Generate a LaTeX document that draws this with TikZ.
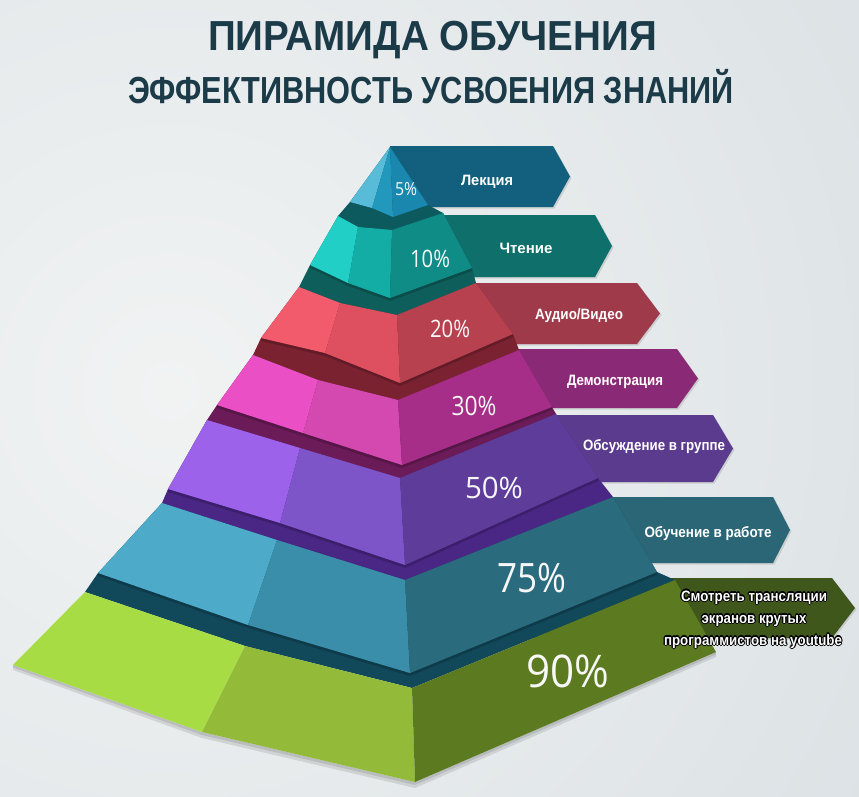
\documentclass[tikz,border=0pt]{standalone}
\usepackage{fontspec}
\setmainfont{Liberation Sans}
\newfontfamily\pctfont{Open Sans}
\usetikzlibrary{shadows}
\definecolor{bgcol}{HTML}{DCE2E5}
\definecolor{bglight}{HTML}{F1F3F3}
\definecolor{titlecol}{HTML}{1C3B49}
% ribbons
\definecolor{rA}{HTML}{13607E}
\definecolor{rB}{HTML}{0F6F6A}
\definecolor{rC}{HTML}{9F3A4A}
\definecolor{rD}{HTML}{8A2A76}
\definecolor{rE}{HTML}{5A3B8E}
\definecolor{rF}{HTML}{2A6676}
\definecolor{rG}{HTML}{3F571B}
% layers: left / mid / right / ledge
\definecolor{aL}{HTML}{58BCD8}\definecolor{aM}{HTML}{2398BD}\definecolor{aR}{HTML}{1A88AE}
\definecolor{bL}{HTML}{22CFC7}\definecolor{bM}{HTML}{14ADA6}\definecolor{bR}{HTML}{0F8C86}\definecolor{bG}{HTML}{0C5A5D}
\definecolor{cL}{HTML}{F25B6B}\definecolor{cM}{HTML}{DE4F5F}\definecolor{cR}{HTML}{B8414F}\definecolor{cG}{HTML}{0E5F5C}
\definecolor{dL}{HTML}{EA4FC5}\definecolor{dM}{HTML}{D449B0}\definecolor{dR}{HTML}{A72E88}\definecolor{dG}{HTML}{7B2231}
\definecolor{eL}{HTML}{9C62EA}\definecolor{eM}{HTML}{7E54C9}\definecolor{eR}{HTML}{5E3D9A}\definecolor{eG}{HTML}{6B1B58}
\definecolor{fL}{HTML}{4DAAC9}\definecolor{fM}{HTML}{3B8EAA}\definecolor{fR}{HTML}{2B6B7E}\definecolor{fG}{HTML}{4A2784}
\definecolor{gL}{HTML}{A8DC44}\definecolor{gM}{HTML}{93BA38}\definecolor{gR}{HTML}{5C7B20}\definecolor{gG}{HTML}{12495A}
\newcommand\fitw[2]{\resizebox{#1}{\height}{#2}}
\newcommand\olt[1]{\leavevmode
  \rlap{\textcolor{black}{\kern-1.2pt#1}}\rlap{\textcolor{black}{\kern1.2pt#1}}%
  \rlap{\textcolor{black}{\raisebox{1.2pt}{#1}}}\rlap{\textcolor{black}{\raisebox{-1.2pt}{#1}}}%
  \rlap{\textcolor{black}{\kern-.9pt\raisebox{.9pt}{#1}}}\rlap{\textcolor{black}{\kern.9pt\raisebox{-.9pt}{#1}}}%
  \rlap{\textcolor{black}{\kern-.9pt\raisebox{-.9pt}{#1}}}\rlap{\textcolor{black}{\kern.9pt\raisebox{.9pt}{#1}}}%
  #1}
\newcommand\layerfaces[4]{% prefix, left, mid, right
  \fill[#2] (#1TL) -- (#1A) -- (#1C) -- (#1BL) -- cycle;
  \fill[#3] (#1A) -- (#1B) -- (#1D) -- (#1C) -- cycle;
  \fill[#4] (#1B) -- (#1TR) -- (#1BR) -- (#1D) -- cycle;}
\newcommand\ledgeshade[1]{% soft shadow cast by the upper layer on the ledge
  \fill[black, opacity=0.18] ([yshift=-3pt]#1BL) -- ([yshift=-3pt]#1C) -- ([yshift=-3pt]#1D) -- ([yshift=-3pt]#1BR) -- (#1BR) -- (#1D) -- (#1C) -- (#1BL) -- cycle;}
\begin{document}
\begin{tikzpicture}[x=1pt,y=-1pt,
  pct/.style={text=white!94!gray, anchor=base, inner sep=0pt},
  lbl/.style={text=white, font=\fontsize{15}{15}\selectfont\bfseries, anchor=base, inner sep=0pt},
  ribbon/.style={fill=#1, drop shadow={opacity=0.25, shadow xshift=1.5pt, shadow yshift=-1.5pt}},
  ttl/.style={text=titlecol, anchor=base, inner sep=0pt, font=\bfseries}]
\useasboundingbox (0,0) rectangle (859,797);
% background
\fill[bgcol] (0,0) rectangle (859,797);
\begin{scope}
  \clip (0,0) rectangle (859,797);
  \shade[inner color=bglight, outer color=bgcol] (170,390) circle[radius=820];
\end{scope}

% coordinates
\coordinate (aP) at (390,147); \coordinate (aLb) at (350,202); \coordinate (aRb) at (372,208);
\coordinate (aFb) at (393,217); \coordinate (aRr) at (428,205);

\coordinate (bTL) at (338,216); \coordinate (bA) at (358,227); \coordinate (bB) at (392,230); \coordinate (bTR) at (443,213);
\coordinate (bBL) at (310,265); \coordinate (bC) at (348,283); \coordinate (bD) at (390,298); \coordinate (bBR) at (472,268);

\coordinate (cTL) at (299,287); \coordinate (cA) at (340,303); \coordinate (cB) at (397,315); \coordinate (cTR) at (476,283);
\coordinate (cBL) at (261,338); \coordinate (cC) at (325,353); \coordinate (cD) at (400,383); \coordinate (cBR) at (513,334);

\coordinate (dTL) at (253,355); \coordinate (dA) at (318,380); \coordinate (dB) at (398,400); \coordinate (dTR) at (519,350);
\coordinate (dBL) at (217,405); \coordinate (dC) at (303,433); \coordinate (dD) at (402,465); \coordinate (dBR) at (552,407);

\coordinate (eTL) at (207,420); \coordinate (eA) at (300,448); \coordinate (eB) at (400,478); \coordinate (eTR) at (556,414);
\coordinate (eBL) at (168,489); \coordinate (eC) at (280,523); \coordinate (eD) at (405,565); \coordinate (eBR) at (598,478);

\coordinate (fTL) at (162,503); \coordinate (fA) at (277,540); \coordinate (fB) at (405,580); \coordinate (fTR) at (613,497);
\coordinate (fBL) at (98,573); \coordinate (fC) at (248,625); \coordinate (fD) at (410,673); \coordinate (fBR) at (657,572);

\coordinate (gTL) at (85,592); \coordinate (gA) at (245,646); \coordinate (gB) at (412,688); \coordinate (gTR) at (675,580);
\coordinate (gBL) at (13,665); \coordinate (gC) at (202,732); \coordinate (gD) at (415,782); \coordinate (gBR) at (716,652);

% ribbons (behind pyramid)
\fill[ribbon=rA] (390,146) -- (553,146) -- (570,176.5) -- (553,207) -- (390,207) -- cycle;
\fill[ribbon=rB] (400,215) -- (595,215) -- (612,246) -- (595,277) -- (400,277) -- cycle;
\fill[ribbon=rC] (405,283) -- (637,283) -- (660,313.5) -- (637,344) -- (405,344) -- cycle;
\fill[ribbon=rD] (410,349) -- (677,349) -- (698,378.5) -- (677,408) -- (410,408) -- cycle;
\fill[ribbon=rE] (410,415) -- (713,415) -- (733,448.5) -- (713,482) -- (410,482) -- cycle;
\fill[ribbon=rF] (410,497) -- (773,497) -- (790,530) -- (773,563) -- (410,563) -- cycle;
\fill[ribbon=rG] (415,578) -- (832,578) -- (855,608) -- (832,638) -- (415,638) -- cycle;

% ground shadow of the bottom layer
\fill[black, opacity=0.10] ([yshift=-5pt]gBL) -- ([yshift=-6pt]gC) -- ([yshift=-6pt]gD) -- ([yshift=-5pt]gBR) -- (gBR) -- (gD) -- (gC) -- (gBL) -- cycle;
\fill[black, opacity=0.10] ([yshift=-2.5pt]gBL) -- ([yshift=-3pt]gC) -- ([yshift=-3pt]gD) -- ([yshift=-2.5pt]gBR) -- (gBR) -- (gD) -- (gC) -- (gBL) -- cycle;

% layer 7 (green)
\fill[gG] (gTL) -- (fBL) -- (fTL) -- (fTR) -- (fBR) -- (gTR) -- (gB) -- (gA) -- cycle;
\ledgeshade{f}
\layerfaces{g}{gL}{gM}{gR}
% layer 6 (blue)
\fill[fG] (fTL) -- (eBL) -- (eTL) -- (eTR) -- (eBR) -- (fTR) -- (fB) -- (fA) -- cycle;
\ledgeshade{e}
\layerfaces{f}{fL}{fM}{fR}
% layer 5 (purple)
\fill[eG] (eTL) -- (dBL) -- (dTL) -- (dTR) -- (dBR) -- (eTR) -- (eB) -- (eA) -- cycle;
\ledgeshade{d}
\layerfaces{e}{eL}{eM}{eR}
% layer 4 (magenta)
\fill[dG] (dTL) -- (cBL) -- (cTL) -- (cTR) -- (cBR) -- (dTR) -- (dB) -- (dA) -- cycle;
\ledgeshade{c}
\layerfaces{d}{dL}{dM}{dR}
% layer 3 (red)
\fill[cG] (cTL) -- (bBL) -- (bTL) -- (bTR) -- (bBR) -- (cTR) -- (cB) -- (cA) -- cycle;
\ledgeshade{b}
\layerfaces{c}{cL}{cM}{cR}
% layer 2 (teal)
\fill[bG] (bTL) -- (aLb) -- (aP) -- (aRr) -- (bTR) -- (bB) -- (bA) -- cycle;
\layerfaces{b}{bL}{bM}{bR}
% layer 1 (top)
\fill[aL] (aP) -- (aLb) -- (aRb) -- cycle;
\fill[aM] (aP) -- (aRb) -- (aFb) -- cycle;
\fill[aR] (aP) -- (aFb) -- (aRr) -- cycle;

% percentages
\node[pct] (p1) at (406,195) {\fitw{22pt}{\pctfont\fontsize{18}{18}\selectfont 5\%}};
\node[pct] (p2) at (430,267) {\fitw{40pt}{\pctfont\fontsize{24}{24}\selectfont 10\%}};
\node[pct] (p3) at (450,337) {\fitw{40pt}{\pctfont\fontsize{24}{24}\selectfont 20\%}};
\node[pct] (p4) at (474,415) {\fitw{45pt}{\pctfont\fontsize{26.5}{26.5}\selectfont 30\%}};
\node[pct] (p5) at (494,498) {\fitw{58pt}{\pctfont\fontsize{29.5}{29.5}\selectfont 50\%}};
\node[pct] (p6) at (532,592) {\fitw{69pt}{\pctfont\fontsize{40.5}{40.5}\selectfont 75\%}};
\node[pct] (p7) at (568,687) {\fitw{83pt}{\pctfont\fontsize{45}{45}\selectfont 90\%}};

% labels
\node[lbl] (t1) at (487,185.5) {\fitw{52pt}{Лекция}};
\node[lbl] (t2) at (526,253.5) {\fitw{53pt}{Чтение}};
\node[lbl] (t3) at (579,319.5) {\fitw{88pt}{Аудио/Видео}};
\node[lbl] (t4) at (615,385.5) {\fitw{96pt}{Демонстрация}};
\node[lbl] (t5) at (654,450.5) {\fitw{142pt}{Обсуждение в группе}};
\node[lbl] (t6) at (708,537) {\fitw{127pt}{Обучение в работе}};
\node[lbl] (t7a) at (754,601) {\fitw{146pt}{\olt{Смотреть трансляции}}};
\node[lbl] (t7b) at (754,623) {\fitw{105pt}{\olt{экранов крутых}}};
\node[lbl] (t7c) at (753,645) {\fitw{178pt}{\olt{программистов на youtube}}};

% titles
\node[ttl] (title) at (432.5,51) {\fitw{449pt}{\fontsize{42}{44}\selectfont ПИРАМИДА ОБУЧЕНИЯ}};
\node[ttl] (subtitle) at (431,104) {\fitw{606pt}{\fontsize{37.7}{40}\selectfont ЭФФЕКТИВНОСТЬ УСВОЕНИЯ ЗНАНИЙ}};
\end{tikzpicture}
\end{document}
